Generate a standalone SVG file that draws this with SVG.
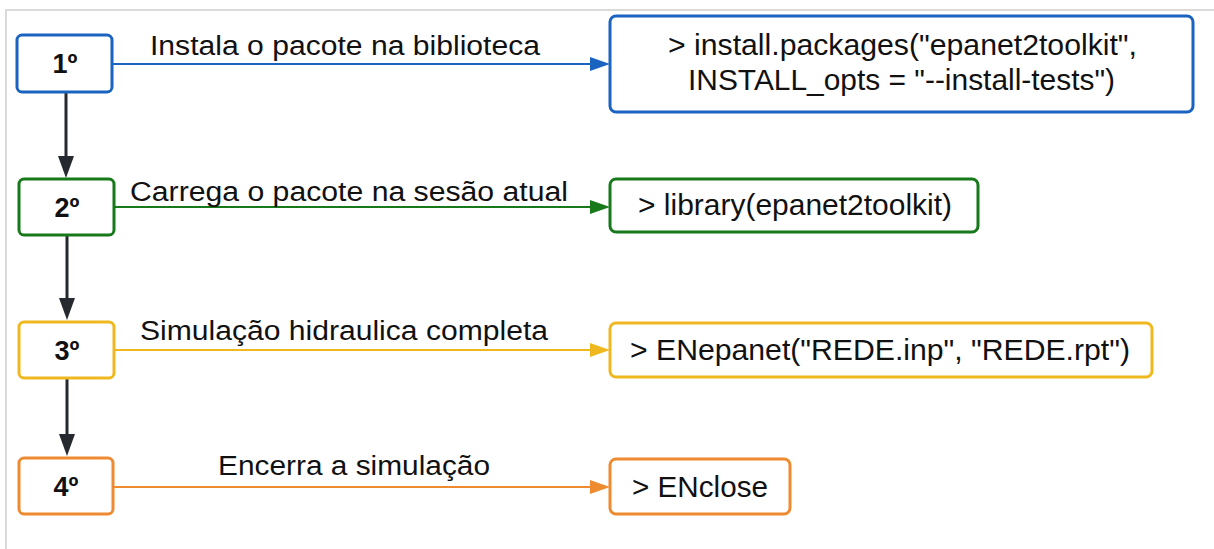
<svg xmlns="http://www.w3.org/2000/svg" width="1214" height="549" viewBox="0 0 1214 549">
<defs>
<style>
text{font-family:"Liberation Sans",Arial,sans-serif;fill:#111;}
.lbl{font-size:27px;}
.code{font-size:29px;}
.step{font-size:27px;font-weight:bold;text-anchor:middle;}
.box{fill:#fff;stroke-width:3;}
.blue{stroke:#1a63c0;}
.green{stroke:#17791a;}
.yellow{stroke:#f0b81f;}
.orange{stroke:#ee8a30;}
.hl{stroke-width:2.2;fill:none;}
.vl{stroke:#262930;stroke-width:3;fill:none;}
</style>
<marker id="mb" markerUnits="userSpaceOnUse" markerWidth="20" markerHeight="14" refX="10" refY="7" orient="auto"><path d="M0,0 L20,7 L0,14 z" fill="#1a63c0"/></marker>
<marker id="mg" markerUnits="userSpaceOnUse" markerWidth="20" markerHeight="14" refX="10" refY="7" orient="auto"><path d="M0,0 L20,7 L0,14 z" fill="#17791a"/></marker>
<marker id="my" markerUnits="userSpaceOnUse" markerWidth="20" markerHeight="14" refX="10" refY="7" orient="auto"><path d="M0,0 L20,7 L0,14 z" fill="#f0b81f"/></marker>
<marker id="mo" markerUnits="userSpaceOnUse" markerWidth="20" markerHeight="14" refX="10" refY="7" orient="auto"><path d="M0,0 L20,7 L0,14 z" fill="#ee8a30"/></marker>
<marker id="mk" markerUnits="userSpaceOnUse" markerWidth="16" markerHeight="22" refX="8" refY="12" orient="0"><path d="M0,0 L16,0 L8,22 z" fill="#262930"/></marker>
</defs>
<rect width="1214" height="549" fill="#fff"/>
<path d="M6,549 V10 H1214" fill="none" stroke="#dadada" stroke-width="2"/>

<g id="connectors">
<line class="hl blue" x1="112" y1="64" x2="600" y2="64" marker-end="url(#mb)"/>
<line class="hl green" x1="114" y1="207" x2="600" y2="207" marker-end="url(#mg)"/>
<line class="hl yellow" x1="114" y1="350" x2="600" y2="350" marker-end="url(#my)"/>
<line class="hl orange" x1="113" y1="487" x2="600" y2="487" marker-end="url(#mo)"/>
<line class="vl" x1="66" y1="93" x2="66" y2="168" marker-end="url(#mk)"/>
<line class="vl" x1="67" y1="236" x2="67" y2="310" marker-end="url(#mk)"/>
<line class="vl" x1="67" y1="379" x2="67" y2="446" marker-end="url(#mk)"/>
<text class="lbl" x="150" y="55" textLength="390" lengthAdjust="spacingAndGlyphs">Instala o pacote na biblioteca</text>
<text class="lbl" x="130" y="200.5" textLength="438" lengthAdjust="spacingAndGlyphs">Carrega o pacote na sesão atual</text>
<text class="lbl" x="140" y="340" textLength="408" lengthAdjust="spacingAndGlyphs">Simulação hidraulica completa</text>
<text class="lbl" x="218" y="475" textLength="272" lengthAdjust="spacingAndGlyphs">Encerra a simulação</text>
</g>

<g id="step1">
<rect class="box blue" x="17" y="35" width="95" height="57" rx="5"/>
<text class="step" x="65" y="73">1º</text>
</g>
<g id="step2">
<rect class="box green" x="19" y="179" width="95" height="56" rx="5"/>
<text class="step" x="67" y="217">2º</text>
</g>
<g id="step3">
<rect class="box yellow" x="19" y="322" width="95" height="56" rx="5"/>
<text class="step" x="67" y="360">3º</text>
</g>
<g id="step4">
<rect class="box orange" x="19" y="458" width="94" height="56" rx="5"/>
<text class="step" x="66" y="496">4º</text>
</g>

<g id="cmd1">
<rect class="box blue" x="610" y="16" width="583" height="96" rx="6"/>
<text class="code" x="668" y="55" textLength="469" lengthAdjust="spacingAndGlyphs">&gt; install.packages("epanet2toolkit",</text>
<text class="code" x="688" y="90" textLength="427" lengthAdjust="spacingAndGlyphs">INSTALL_opts = "--install-tests")</text>
</g>
<g id="cmd2">
<rect class="box green" x="610" y="179" width="368" height="53" rx="6"/>
<text class="code" x="638" y="215" textLength="314" lengthAdjust="spacingAndGlyphs">&gt; library(epanet2toolkit)</text>
</g>
<g id="cmd3">
<rect class="box yellow" x="610" y="323" width="542" height="54" rx="6"/>
<text class="code" x="630" y="360" textLength="500" lengthAdjust="spacingAndGlyphs">&gt; ENepanet("REDE.inp", "REDE.rpt")</text>
</g>
<g id="cmd4">
<rect class="box orange" x="610" y="459" width="180" height="55" rx="6"/>
<text class="code" x="632" y="497" textLength="136" lengthAdjust="spacingAndGlyphs">&gt; ENclose</text>
</g>
</svg>
